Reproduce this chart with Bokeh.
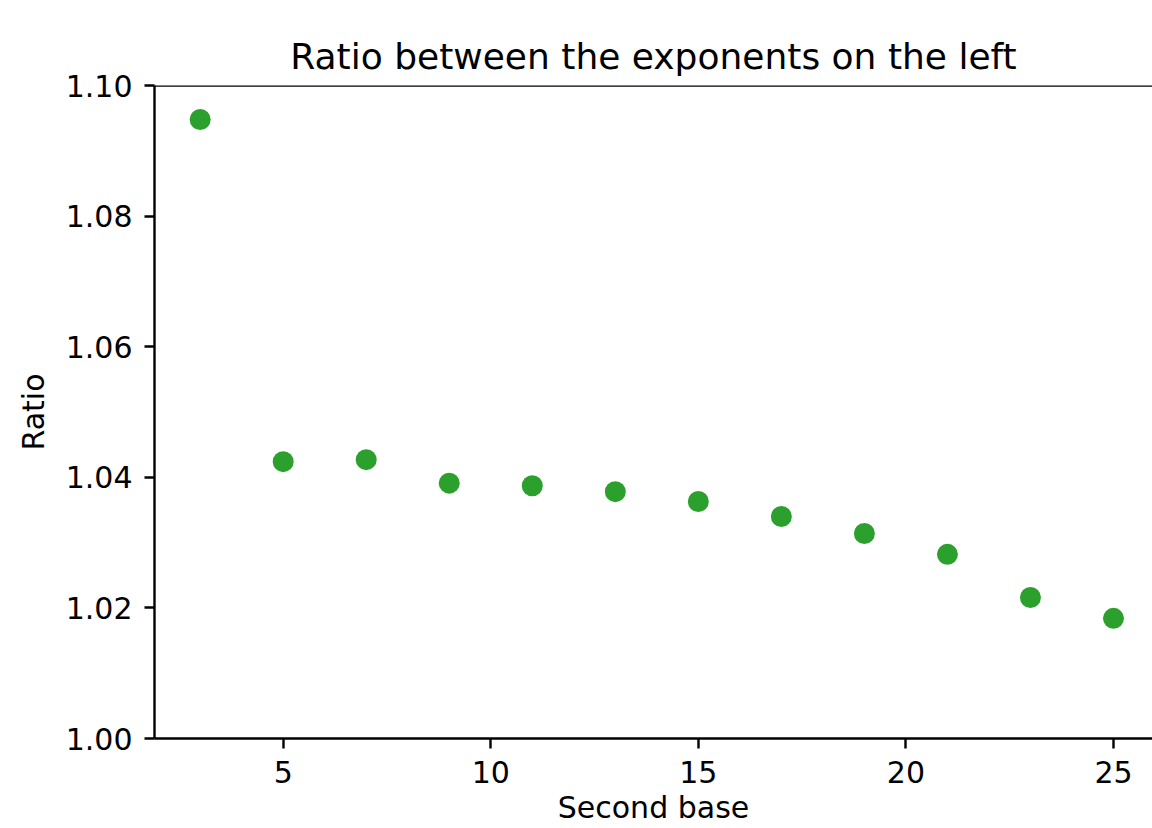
from bokeh.plotting import figure
from bokeh.models import Range1d, FixedTicker, Span, NumeralTickFormatter
from bokeh.embed import file_html
from bokeh.resources import INLINE

second_base = [3, 5, 7, 9, 11, 13, 15, 17, 19, 21, 23, 25]
ratio = [1.0948, 1.0424, 1.0427, 1.0391, 1.0387, 1.0378, 1.0363, 1.0340, 1.0314, 1.0282, 1.0216, 1.0184]
x_ticks = [5, 10, 15, 20, 25]
y_ticks = [1.00, 1.02, 1.04, 1.06, 1.08, 1.10]

FONT = "DejaVu Sans"

p = figure(width=1152, height=828, output_backend="svg", toolbar_location=None,
           x_range=Range1d(1.9, 25.94), y_range=Range1d(1.0, 1.10),
           min_border_left=154, min_border_right=0, min_border_top=85, min_border_bottom=90,
           title="Ratio between the exponents on the left")
p.outline_line_color = None
p.grid.visible = False
p.background_fill_color = "white"
p.border_fill_color = "white"

p.title.text_font = FONT
p.title.text_font_size = "36px"
p.title.text_font_style = "normal"
p.title.text_color = "black"
p.title.align = "center"
p.title.standoff = 17

p.scatter(second_base, ratio, size=21, color="#2ca02c", line_color=None)

p.add_layout(Span(location=1.10, dimension="width", line_color="black", line_width=2.4))

for ax in (p.xaxis[0], p.yaxis[0]):
    ax.axis_line_width = 2.4
    ax.axis_line_color = "black"
    ax.major_tick_line_width = 2.4
    ax.major_tick_line_color = "black"
    ax.major_tick_out = 10
    ax.major_tick_in = 0
    ax.minor_tick_line_color = None
    ax.major_label_text_font = FONT
    ax.major_label_text_font_size = "30px"
    ax.major_label_text_color = "black"
    ax.axis_label_text_font = FONT
    ax.axis_label_text_font_size = "30px"
    ax.axis_label_text_font_style = "normal"
    ax.axis_label_text_color = "black"

p.xaxis[0].ticker = FixedTicker(ticks=x_ticks)
p.yaxis[0].ticker = FixedTicker(ticks=y_ticks)
p.yaxis[0].formatter = NumeralTickFormatter(format="0.00")
p.xaxis[0].axis_label = "Second base"
p.yaxis[0].axis_label = "Ratio"
p.xaxis[0].major_label_standoff = 12
p.yaxis[0].major_label_standoff = 12
p.xaxis[0].axis_label_standoff = 4
p.yaxis[0].axis_label_standoff = 12

open("out.html", "w").write(file_html(p, INLINE))
